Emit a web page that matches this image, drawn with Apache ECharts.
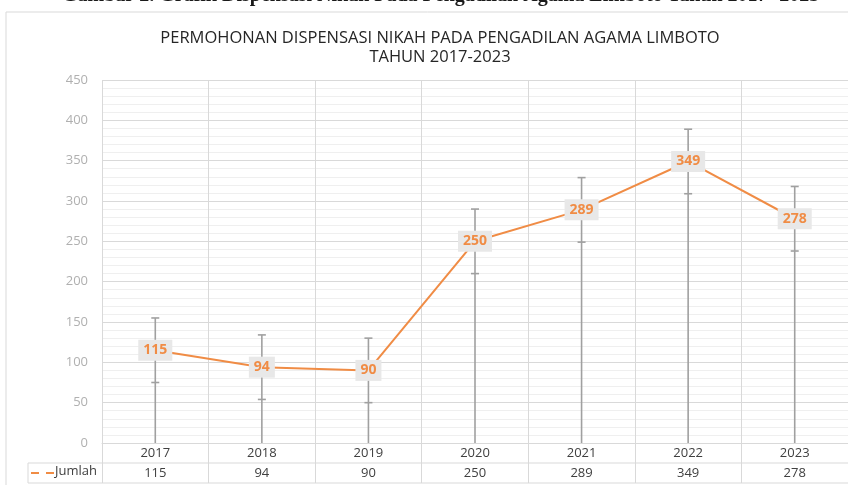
<!DOCTYPE html>
<html>
<head>
<meta charset="utf-8">
<script src="https://cdn.jsdelivr.net/npm/echarts@6/dist/echarts.min.js"></script>
<style>
  html, body { margin: 0; padding: 0; background: #fff; }
  #main { width: 848px; height: 485px; }
</style>
</head>
<body>
<div id="main"></div>
<script>
// data
var years = ['2017', '2018', '2019', '2020', '2021', '2022', '2023'];
var jumlah = [115, 94, 90, 250, 289, 349, 278];
var errorMargin = [40, 40, 40, 40, 40, 40, 40];
var yTicks = { min: 0, max: 450, interval: 50 };

var orange = '#f08c45';
var gridLeft = 102, gridTop = 80, gridBottom = 42;

var myChart = echarts.init(document.getElementById('main'));

myChart.setOption({
    animation: false,
    textStyle: { fontFamily: 'Open Sans' },
    title: {
        text: 'PERMOHONAN DISPENSASI NIKAH PADA PENGADILAN AGAMA LIMBOTO\nTAHUN 2017-2023',
        left: 435,
        top: 24,
        textAlign: 'center',
        textStyle: {
            fontFamily: 'Open Sans',
            fontWeight: 'normal',
            fontSize: 16.5,
            lineHeight: 19,
            color: '#262626'
        }
    },
    grid: { left: gridLeft, right: -1, top: gridTop, bottom: gridBottom },
    xAxis: {
        type: 'category',
        data: years,
        boundaryGap: true,
        axisLine: { show: true, lineStyle: { color: '#d9d9d9', width: 1 } },
        axisTick: { show: true, alignWithLabel: false, length: 40, lineStyle: { color: '#d9d9d9' } },
        splitLine: { show: true, lineStyle: { color: '#d9d9d9' } },
        axisLabel: {
            margin: 0,
            interval: 0,
            formatter: function (v, i) {
                return '{y|' + v + '}\n{n|' + jumlah[i] + '}';
            },
            rich: {
                y: { fontSize: 13, color: '#404040', lineHeight: 20, fontFamily: 'Open Sans' },
                n: { fontSize: 13, color: '#404040', lineHeight: 20, fontFamily: 'Open Sans' }
            }
        }
    },
    yAxis: {
        type: 'value',
        min: yTicks.min,
        max: yTicks.max,
        interval: yTicks.interval,
        axisLine: { show: false },
        axisTick: { show: false },
        axisLabel: { color: '#b0b0b0', fontSize: 13, margin: 14 },
        splitLine: { show: true, lineStyle: { color: '#d9d9d9' } },
        minorTick: { show: false, splitNumber: 5 },
        minorSplitLine: { show: true, lineStyle: { color: '#efefef' } }
    },
    series: [
        {
            type: 'custom',
            name: 'err',
            z: 1,
            data: jumlah.map(function (v, i) { return [i, v, errorMargin[i]]; }),
            renderItem: function (params, api) {
                var i = api.value(0), v = api.value(1), e = api.value(2);
                var top = api.coord([i, v + e]);
                var low = api.coord([i, v - e]);
                var base = api.coord([i, 0]);
                var st = { stroke: '#a0a0a0', lineWidth: 1.6 };
                return {
                    type: 'group',
                    children: [
                        { type: 'line', shape: { x1: top[0], y1: top[1], x2: base[0], y2: base[1] }, style: st },
                        { type: 'line', shape: { x1: top[0] - 4, y1: top[1], x2: top[0] + 4, y2: top[1] }, style: st },
                        { type: 'line', shape: { x1: low[0] - 4, y1: low[1], x2: low[0] + 4, y2: low[1] }, style: st }
                    ]
                };
            }
        },
        {
            type: 'line',
            name: 'Jumlah',
            z: 3,
            data: jumlah,
            symbol: 'circle',
            symbolSize: 1,
            showSymbol: true,
            showAllSymbol: true,
            itemStyle: { color: orange },
            lineStyle: { color: orange, width: 2 },
            label: {
                show: true,
                position: 'inside',
                color: orange,
                fontWeight: 'bold',
                fontSize: 14,
                backgroundColor: '#e8e8e8',
                padding: [4, 5, 3, 5]
            }
        }
    ],
    graphic: [
        {
            type: 'text', left: 62, top: -14,
            style: {
                text: 'Gambar 2. Grafik Dispensasi Nikah Pada Pengadilan Agama Limboto Tahun 2017- 2023',
                font: 'bold 20px "Liberation Serif"', fill: '#1a1a1a'
            }
        },
        { type: 'rect', shape: { x: 6, y: 12, width: 900, height: 520 }, style: { fill: '#fff', stroke: '#d9d9d9', lineWidth: 1 }, silent: true, z: -10 },
        // data table frame
        { type: 'line', shape: { x1: 28, y1: 463, x2: 848, y2: 463 }, style: { stroke: '#d9d9d9', lineWidth: 1 } },
        { type: 'line', shape: { x1: 28, y1: 483, x2: 848, y2: 483 }, style: { stroke: '#d9d9d9', lineWidth: 1 } },
        { type: 'line', shape: { x1: 28, y1: 463, x2: 28, y2: 483 }, style: { stroke: '#d9d9d9', lineWidth: 1 } },
        // legend key
        { type: 'line', shape: { x1: 31, y1: 473, x2: 39, y2: 473 }, style: { stroke: orange, lineWidth: 2 } },
        { type: 'line', shape: { x1: 46, y1: 473, x2: 54, y2: 473 }, style: { stroke: orange, lineWidth: 2 } },
        { type: 'text', left: 55, top: 465, style: { text: 'Jumlah', font: '13px "Open Sans"', fill: '#404040' } }
    ]
});
</script>
</body>
</html>
